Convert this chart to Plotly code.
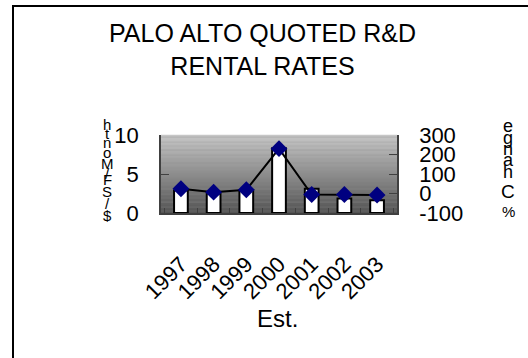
import plotly.graph_objects as go

# Palo Alto quoted R&D rents ($/SF/month) and year-over-year % change
years = ["1997", "1998", "1999", "2000", "2001", "2002", "2003"]
rent_per_sf = [2.9, 2.5, 2.95, 8.3, 3.1, 1.85, 1.63]
pct_change = [24, 7, 19, 230, -5, -5, -8]

left_ticks = [0, 5, 10]
right_ticks = [-100, 0, 100, 200, 300]
right_tick_text = ["-100", "0", "100", "200", "300"]

W, H = 528, 358
# plot area in pixels
PL, PR, PT, PB = 161, 397, 135, 213
FONT = "Liberation Sans, Arial, sans-serif"


def px_x(x):
    return (x - PL) / (PR - PL)


def px_y(y):
    return (PB - y) / (PB - PT)


fig = go.Figure()

fig.add_trace(go.Bar(
    x=years, y=rent_per_sf, yaxis="y",
    width=0.42,
    marker=dict(color="white", line=dict(color="black", width=2)),
    name="$/SF/Month",
))
fig.add_trace(go.Scatter(
    x=years, y=pct_change, yaxis="y2",
    mode="lines+markers",
    line=dict(color="black", width=2),
    marker=dict(symbol="diamond", size=13, color="#000080",
                line=dict(width=0)),
    name="% Change",
))

shapes = []
# vertical grey gradient behind the plot area
n_bands = 60
top_c, bot_c = 198, 84
for i in range(n_bands):
    t = i / (n_bands - 1)
    v = int(round(top_c + (bot_c - top_c) * t))
    shapes.append(dict(
        type="rect", xref="paper", yref="paper", layer="below",
        x0=0, x1=1, y0=1 - (i + 1) / n_bands, y1=1 - i / n_bands + 0.002,
        fillcolor=f"rgb({v},{v},{v})", line=dict(width=0),
    ))
# outer chart frame
shapes.append(dict(
    type="rect", xref="paper", yref="paper",
    x0=px_x(13), x1=px_x(545), y0=px_y(375), y1=px_y(6),
    line=dict(color="black", width=2), fillcolor="rgba(0,0,0,0)",
))

annotations = []
# stacked characters of the left axis title
left_chars = list("htnoM/FS/$")
left_y = [124, 133, 142, 152, 163, 173, 179, 191, 203, 215]
for ch, yy in zip(left_chars, left_y):
    annotations.append(dict(
        text=ch, x=px_x(107), y=px_y(yy), xref="paper", yref="paper",
        showarrow=False, xanchor="center", yanchor="middle",
        font=dict(family=FONT, size=15, color="black"),
    ))
# stacked characters of the right axis title
right_chars = list("egnahC%")
right_y = [126, 138, 149, 160, 172, 191, 211]
right_sz = [18, 18, 18, 18, 18, 19, 15]
for ch, yy, sz in zip(right_chars, right_y, right_sz):
    annotations.append(dict(
        text=ch, x=px_x(508), y=px_y(yy), xref="paper", yref="paper",
        showarrow=False, xanchor="center", yanchor="middle",
        font=dict(family=FONT, size=sz, color="black"),
    ))
annotations.append(dict(
    text="Est.", x=px_x(277), y=px_y(318), xref="paper", yref="paper",
    showarrow=False, xanchor="center", yanchor="middle",
    font=dict(family=FONT, size=24, color="black"),
))

axis_col = "#404040"
fig.update_layout(
    width=W, height=H,
    margin=dict(l=PL, r=W - PR, t=PT, b=H - PB, pad=0),
    paper_bgcolor="white", plot_bgcolor="#909090",
    showlegend=False,
    font=dict(family=FONT, color="black"),
    title=dict(
        text="PALO ALTO QUOTED R&D<br>RENTAL RATES",
        x=262.5 / W, xref="container", xanchor="center",
        y=1 - 42 / H, yref="container", yanchor="middle",
        font=dict(family=FONT, size=25, color="black"),
    ),
    xaxis=dict(
        type="category", tickangle=-45,
        tickfont=dict(size=22), ticks="inside", tickson="boundaries",
        ticklen=5, tickcolor=axis_col, ticklabelstandoff=28,
        showline=True, linecolor=axis_col, linewidth=1.5,
        showgrid=False, zeroline=False,
    ),
    yaxis=dict(
        range=[0, 10], tickvals=left_ticks,
        tickfont=dict(size=22), ticks="inside", ticklen=8,
        tickcolor=axis_col, ticklabelstandoff=16,
        showline=True, linecolor=axis_col, linewidth=1.5,
        showgrid=False, zeroline=False,
    ),
    yaxis2=dict(
        range=[-100, 300], tickvals=right_ticks, ticktext=right_tick_text,
        overlaying="y", side="right",
        tickfont=dict(size=22), ticks="inside", ticklen=8,
        tickcolor=axis_col, ticklabelstandoff=16,
        showline=True, linecolor=axis_col, linewidth=1.5,
        showgrid=False, zeroline=False,
    ),
    shapes=shapes,
    annotations=annotations,
)

fig.write_html("out.html")
